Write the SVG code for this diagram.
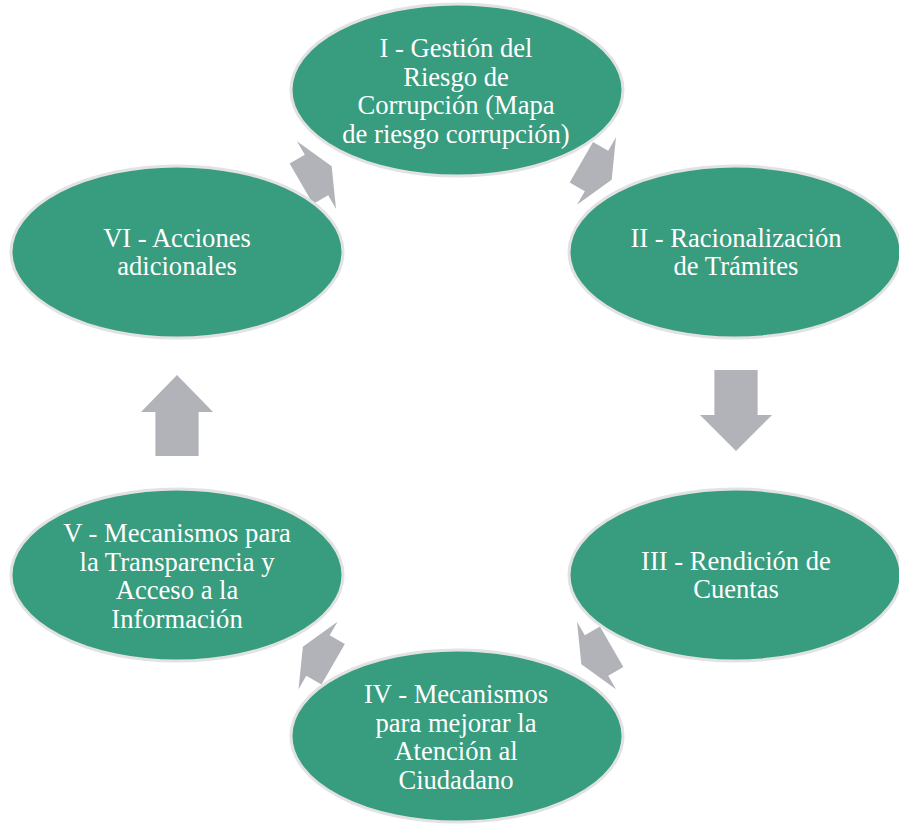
<svg xmlns="http://www.w3.org/2000/svg" width="899" height="825" viewBox="0 0 899 825">
  <style>
    .node ellipse { fill: #389c7f; stroke: #e2e2e2; stroke-width: 3; }
    .node text { fill: #ffffff; font-family: 'Liberation Serif', Tinos, 'Times New Roman', Times, 'DejaVu Serif', serif; font-size: 26.6px; text-anchor: middle; }
    .arrow { fill: #b1b3b9; }
  </style>
  <defs>
    <!-- short block arrow for the diagonal gaps, centred on its origin, pointing +x -->
    <polygon id="shortArrow" points="-17.5,-23.4 0,-23.4 0,-39 17.5,0 0,39 0,23.4 -17.5,23.4"/>
  </defs>
  <rect width="899" height="825" fill="#ffffff"/>

  <g id="connectors">
    <use href="#shortArrow" class="arrow" transform="translate(596.5,171) rotate(30)"/>
    <polygon class="arrow" points="714.4,370 757.6,370 757.6,415 772,415 736,451 700,415 714.4,415"/>
    <use href="#shortArrow" class="arrow" transform="translate(596.5,655.5) rotate(150)"/>
    <use href="#shortArrow" class="arrow" transform="translate(318,655.5) rotate(210)"/>
    <polygon class="arrow" points="155.4,456 198.6,456 198.6,412 213,412 177,375 141,412 155.4,412"/>
    <use href="#shortArrow" class="arrow" transform="translate(316.5,175) rotate(-30)"/>
  </g>

  <g id="node-1" class="node">
    <ellipse cx="457" cy="90" rx="166" ry="86"/>
    <text x="456" y="57">I - Gestión del</text>
    <text x="456" y="85.5">Riesgo de</text>
    <text x="456" y="114">Corrupción (Mapa</text>
    <text x="456" y="142.5">de riesgo corrupción)</text>
  </g>

  <g id="node-2" class="node">
    <ellipse cx="735" cy="252" rx="166" ry="86"/>
    <text x="736" y="246.5">II - Racionalización</text>
    <text x="736" y="275">de Trámites</text>
  </g>

  <g id="node-3" class="node">
    <ellipse cx="735" cy="575" rx="166" ry="86"/>
    <text x="736" y="569.5">III - Rendición de</text>
    <text x="736" y="598">Cuentas</text>
  </g>

  <g id="node-4" class="node">
    <ellipse cx="457" cy="736" rx="166" ry="86"/>
    <text x="456" y="703">IV - Mecanismos</text>
    <text x="456" y="731.5">para mejorar la</text>
    <text x="456" y="760">Atención al</text>
    <text x="456" y="788.5">Ciudadano</text>
  </g>

  <g id="node-5" class="node">
    <ellipse cx="177" cy="575" rx="166" ry="86"/>
    <text x="177" y="542">V - Mecanismos para</text>
    <text x="177" y="570.5">la Transparencia y</text>
    <text x="177" y="599">Acceso a la</text>
    <text x="177" y="627.5">Información</text>
  </g>

  <g id="node-6" class="node">
    <ellipse cx="177" cy="252" rx="166" ry="86"/>
    <text x="177" y="246.5">VI - Acciones</text>
    <text x="177" y="275">adicionales</text>
  </g>
</svg>
